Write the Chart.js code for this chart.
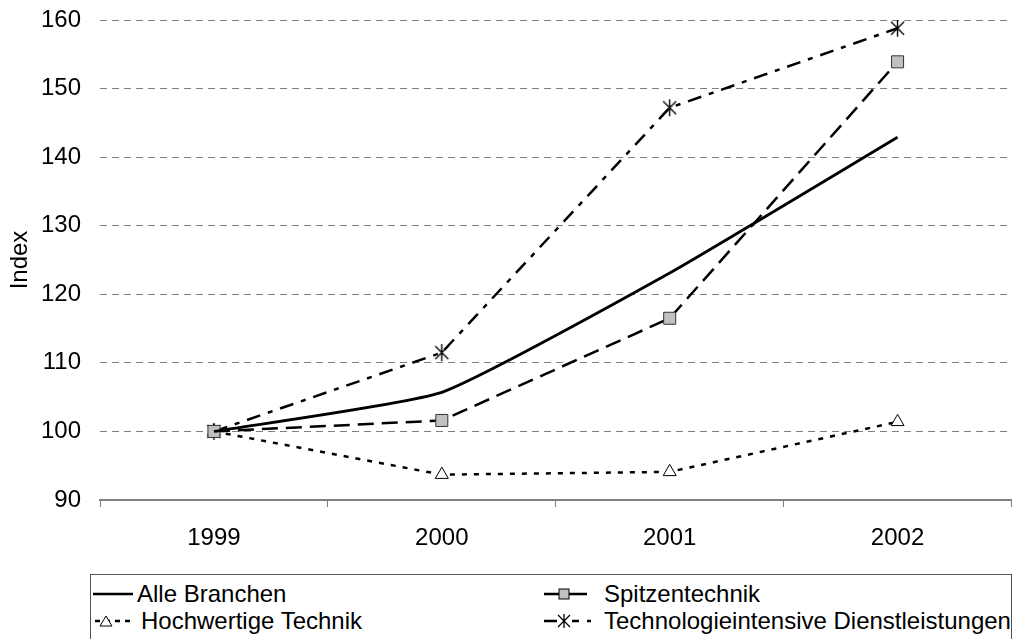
<!DOCTYPE html>
<html>
<head>
<meta charset="utf-8">
<script src="https://cdn.jsdelivr.net/npm/chart.js@4"></script>
<style>
  html, body { margin: 0; padding: 0; overflow: hidden; background: #fff; }
  #wrap { position: relative; width: 1023px; height: 560px; }
  #legend {
    position: absolute; left: 90px; top: 574px; width: 922px; height: 80px;
    border: 1px solid #555; box-sizing: border-box;
    font-family: "Liberation Sans", Arial, sans-serif; font-size: 24px; color: #000;
  }
  .item { position: absolute; height: 26px; line-height: 26px; white-space: nowrap; }
  .item svg { position: absolute; top: 0; }
  .item span { position: absolute; top: 0; }
</style>
</head>
<body>
<div id="wrap"><canvas id="chart"></canvas></div>
<div id="legend">
  <div class="item" style="left:0; top:6px;">
    <svg width="45" height="26"><line x1="2" y1="13" x2="42" y2="13" stroke="#000" stroke-width="2.5"/></svg>
    <span style="left:46px;">Alle Branchen</span>
  </div>
  <div class="item" style="left:0; top:33px;">
    <svg width="50" height="26">
      <line x1="4" y1="13" x2="44" y2="13" stroke="#000" stroke-width="2.5" stroke-dasharray="5,5"/>
      <polygon points="15,8 21,18 9,18" fill="#fff" stroke="#000" stroke-width="1"/>
    </svg>
    <span style="left:50px;">Hochwertige Technik</span>
  </div>
  <div class="item" style="left:452px; top:6px;">
    <svg width="50" height="26">
      <line x1="1" y1="13" x2="44" y2="13" stroke="#000" stroke-width="2.5"/>
      <rect x="16" y="8" width="10" height="10" fill="#c0c0c0" stroke="#000" stroke-width="1"/>
    </svg>
    <span style="left:61px;">Spitzentechnik</span>
  </div>
  <div class="item" style="left:452px; top:33px;">
    <svg width="55" height="26">
      <path d="M1 13 H14 M29 13 H36 M44 13 H48" stroke="#000" stroke-width="2.5"/>
      <path d="M21 6 V20 M15 7 L27 19 M27 7 L15 19" stroke="#000" stroke-width="1.3"/>
    </svg>
    <span style="left:61px;">Technologieintensive Dienstleistungen</span>
  </div>
</div>
<script>
const years = ['1999', '2000', '2001', '2002'];
const alleBranchen = [100, 105.7, 123.1, 142.9];
const spitzentechnik = [100, 101.6, 116.5, 153.9];
const hochwertigeTechnik = [100, 93.7, 94.1, 101.4];
const dienstleistungen = [100, 111.5, 147.2, 158.8];

const fontFamily = '"Liberation Sans", Arial, sans-serif';

// asterisk marker (vertical bar + X)
const star = document.createElement('canvas');
star.width = 19;
star.height = 19;
const sctx = star.getContext('2d');
sctx.strokeStyle = '#000';
sctx.lineWidth = 1.4;
sctx.beginPath();
sctx.moveTo(9.5, 1); sctx.lineTo(9.5, 18);
sctx.moveTo(3, 3); sctx.lineTo(16, 16);
sctx.moveTo(16, 3); sctx.lineTo(3, 16);
sctx.stroke();

const ctx = document.getElementById('chart').getContext('2d');
new Chart(ctx, {
    type: 'line',
    data: {
        labels: years,
        datasets: [
            {
                label: 'Alle Branchen',
                data: alleBranchen,
                borderColor: '#000',
                borderWidth: 2.8,
                pointRadius: 0,
                tension: 0.15
            },
            {
                label: 'Spitzentechnik',
                data: spitzentechnik,
                borderColor: '#000',
                borderWidth: 2.5,
                borderDash: [16, 8],
                pointStyle: 'rect',
                pointRadius: 8.5,
                pointBackgroundColor: '#c0c0c0',
                pointBorderColor: '#333',
                pointBorderWidth: 1
            },
            {
                label: 'Hochwertige Technik',
                data: hochwertigeTechnik,
                borderColor: '#000',
                borderWidth: 2.5,
                borderDash: [5, 7],
                pointStyle: 'triangle',
                pointRadius: 7.5,
                pointBackgroundColor: '#fff',
                pointBorderColor: '#000',
                pointBorderWidth: 1
            },
            {
                label: 'Technologieintensive Dienstleistungen',
                data: dienstleistungen,
                borderColor: '#000',
                borderWidth: 2.5,
                borderDash: [14, 8, 5, 8],
                pointStyle: star,
                pointRadius: 9
            }
        ]
    },
    options: {
        responsive: true,
        maintainAspectRatio: false,
        animation: false,
        layout: {
            padding: { top: 20, right: 0, bottom: 0, left: 0 }
        },
        scales: {
            x: {
                offset: true,
                grid: {
                    offset: true,
                    drawOnChartArea: false,
                    color: '#808080',
                    tickLength: 7
                },
                border: { color: '#808080', width: 2 },
                ticks: {
                    color: '#000',
                    padding: 17,
                    font: { family: fontFamily, size: 24 }
                },
                afterFit: function(scale) { scale.height = 60; }
            },
            y: {
                min: 90,
                max: 160,
                grid: {
                    color: '#808080',
                    drawTicks: false
                },
                border: { display: false, dash: [7, 5] },
                ticks: {
                    stepSize: 10,
                    color: '#000',
                    padding: 19,
                    font: { family: fontFamily, size: 24 }
                },
                title: {
                    display: true,
                    text: 'Index',
                    color: '#000',
                    padding: { top: 6 },
                    font: { family: fontFamily, size: 24 }
                },
                afterFit: function(scale) {
                    scale.width = 100;
                    scale.paddingTop = 0;
                    scale.paddingBottom = 0;
                }
            }
        },
        plugins: {
            legend: { display: false },
            tooltip: { enabled: false }
        }
    }
});
</script>
</body>
</html>
